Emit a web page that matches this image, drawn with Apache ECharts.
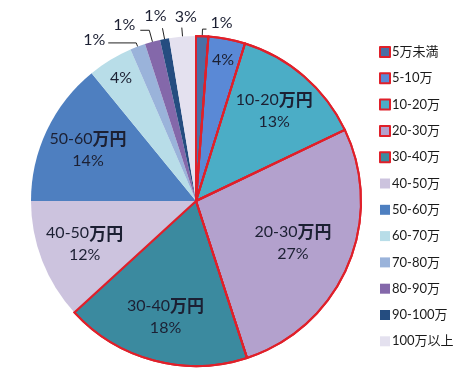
<!DOCTYPE html>
<html><head><meta charset="utf-8">
<script src="https://cdn.jsdelivr.net/npm/echarts@6/dist/echarts.min.js"></script>
<style>html,body{margin:0;padding:0;background:#fff}#c{width:458px;height:368px}</style>
</head><body><div id="c"></div>
<script>
const categories = ['5万未満','5-10万','10-20万','20-30万','30-40万','40-50万','50-60万','60-70万','70-80万','80-90万','90-100万','100万以上'];
const values = [1.2, 3.6, 13.1, 27.1, 18.2, 11.8, 14.1, 4.4, 1.5, 1.5, 0.9, 2.6];
const pctLabels = ['1%','4%','13%','27%','18%','12%','14%','4%','1%','1%','1%','3%'];
const colors = ['#4a6fa5','#5a89d6','#4badc6','#b3a1cd','#3b8a9f','#ccc3de','#4e7fc0','#b8dde8','#9ab3da','#8468aa','#254d80','#e4e1ef'];

const RED = '#e0202a';
const redIdx = [0,1,2,3,4];
const outerCfg = {
  0: {length: 7, length2: 4, dist: 4, lift: 12},
  8: {length: 4, length2: 28, dist: 3, lift: 6},
  9: {length: 12, length2: 9, dist: 5, lift: 10},
  10: {length: 11, length2: 0, dist: -4, lift: 24},
  11: {length: 9, length2: 0, dist: -15, lift: 22}
};
const labelGroups = [
  {idx: [2,4,5,6], r0: 68, big: true},
  {idx: [3], r0: 40, big: true},
  {idx: [1,7], r0: 117, big: false}
];
const latin = 'Lato, "Noto Sans CJK JP", sans-serif';
const txtColor = '#1c2033';
const center = [196, 201];
const R = 165;

const chart = echarts.init(document.getElementById('c'), null, {renderer: 'canvas'});

const mainData = categories.map((n, i) => {
  const isRed = redIdx.includes(i);
  const o = outerCfg[i];
  return {
    name: n, value: values[i],
    itemStyle: {color: colors[i], borderColor: isRed ? RED : colors[i], borderWidth: isRed ? 2 : 0},
    label: o ? {show: true, position: 'outside', distanceToLabelLine: o.dist,
      formatter: '{a|' + pctLabels[i] + '}\n{s| }',
      rich: {a: {fontFamily: latin, fontSize: 16, color: txtColor, lineHeight: 20}, s: {fontSize: 4, lineHeight: o.lift}}
    } : {show: false},
    labelLine: o ? {show: true, length: o.length, length2: o.length2} : {show: false}
  };
});

const borderData = categories.map((n, i) => ({
  name: n, value: values[i],
  itemStyle: {color: 'rgba(0,0,0,0)', borderColor: redIdx.includes(i) ? RED : 'rgba(0,0,0,0)', borderWidth: redIdx.includes(i) ? 2 : 0}
}));

const rich = {
  a: {fontFamily: latin, fontSize: 16, color: txtColor, lineHeight: 22},
  b: {fontFamily: '"Noto Sans CJK JP", sans-serif', fontSize: 17, fontWeight: 'bold', color: txtColor, lineHeight: 22}
};

function labelSeries(g) {
  return {
    type: 'pie', center: center, radius: [g.r0, R], startAngle: 90, silent: true,
    avoidLabelOverlap: false, labelLine: {show: false},
    label: {rich: rich},
    data: categories.map((n, i) => ({
      name: n, value: values[i],
      itemStyle: {color: 'rgba(0,0,0,0)', borderWidth: 0},
      label: g.idx.includes(i) ? {
        show: true, position: 'inside',
        formatter: g.big ? ('{a|' + n.replace('万','') + '}{b|万円}\n{a|' + pctLabels[i] + '}') : ('{a|' + pctLabels[i] + '}')
      } : {show: false}
    }))
  };
}

chart.setOption({
  animation: false,
  backgroundColor: '#fff',
  legend: {
    orient: 'vertical', left: 374, top: 40,
    itemWidth: 10, itemHeight: 10, itemGap: 12.3,
    icon: 'rect',
    data: categories,
    textStyle: {fontFamily: latin, fontSize: 13, color: '#1a1a1a', lineHeight: 14, padding: [0,0,0,-3]}
  },
  series: [
    {
      type: 'pie', center: center, radius: R, startAngle: 90, clockwise: true,
      avoidLabelOverlap: false, silent: true,
      labelLine: {lineStyle: {color: '#222', width: 1}, smooth: false},
      data: mainData
    },
    {
      type: 'pie', center: center, radius: R, startAngle: 90, silent: true,
      label: {show: false}, labelLine: {show: false},
      data: borderData
    }
  ].concat(labelGroups.map(labelSeries))
});
</script></body></html>
